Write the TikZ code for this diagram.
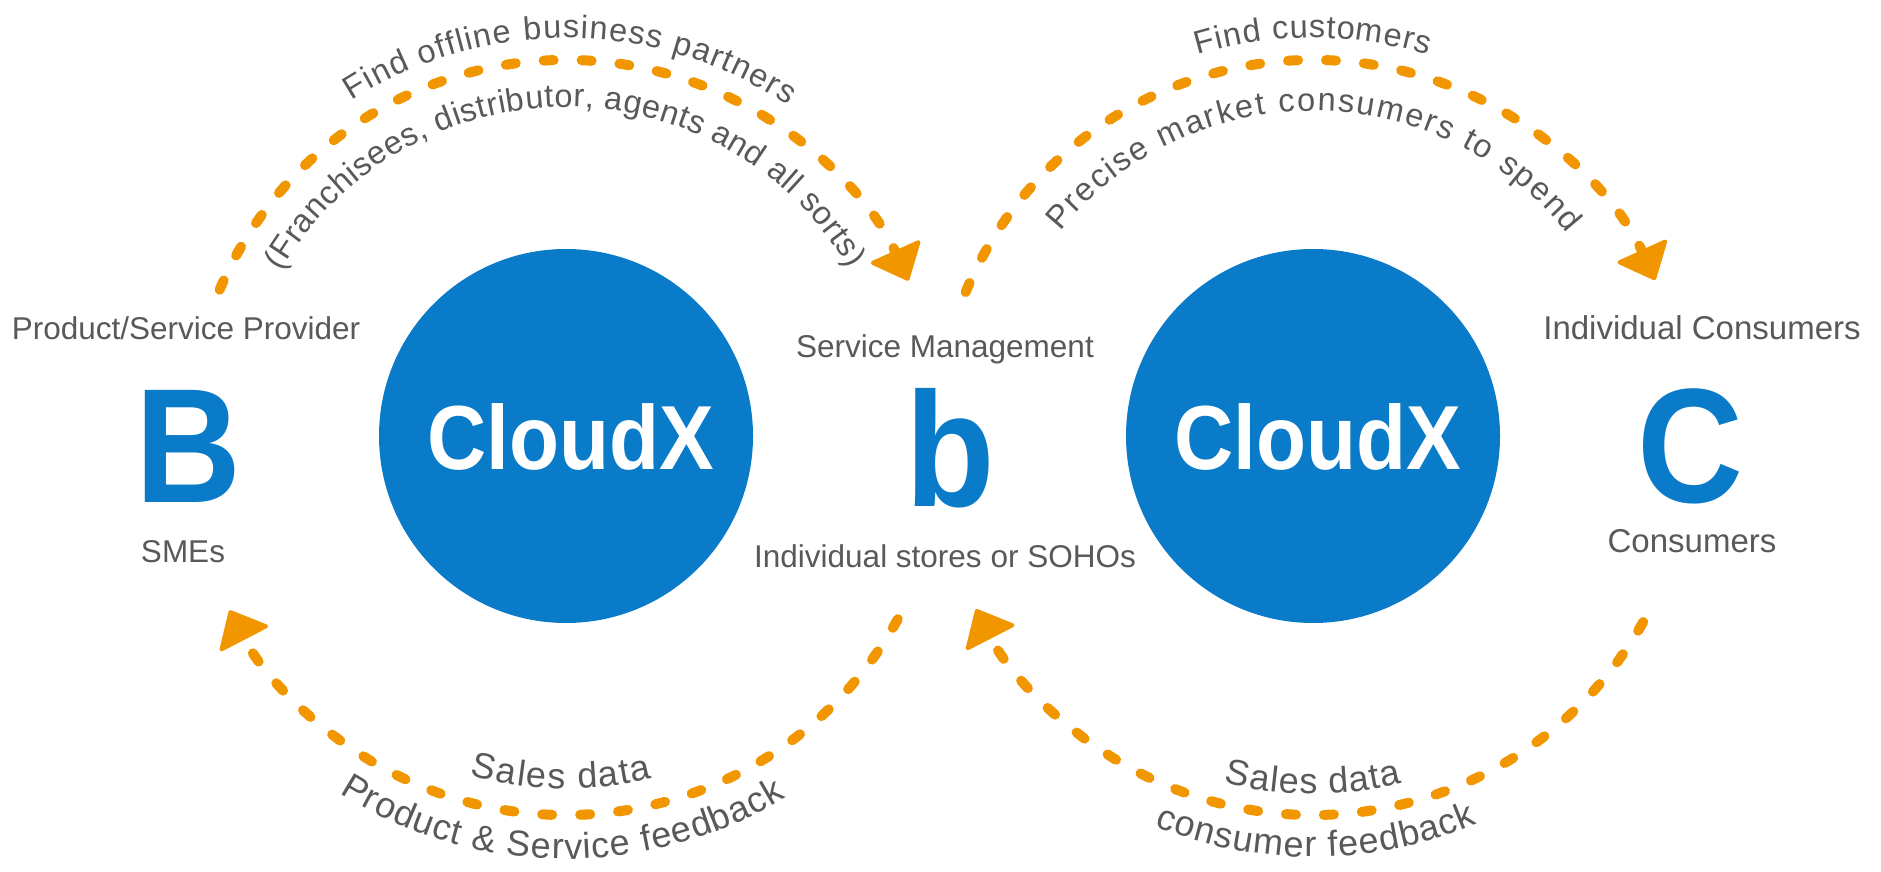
\documentclass[tikz,border=0pt]{standalone}
\usepackage{fontspec}
\setmainfont{Liberation Sans}
\newfontfamily\cloudfont[FakeStretch=0.9]{Liberation Sans}
\usetikzlibrary{arrows.meta,decorations.text}
\definecolor{cxblue}{HTML}{0A7BC8}
\definecolor{cxorange}{HTML}{F29600}
\definecolor{cxgray}{HTML}{595959}
\newcommand{\curvtop}{\fontsize{32.5}{32.5}\selectfont\color{cxgray}}
\newcommand{\curvbot}{\fontsize{36}{36}\selectfont\color{cxgray}}
\begin{document}
\begin{tikzpicture}[x=1pt,y=1pt,
  hub/.style={circle, fill=cxblue, minimum size=374pt, inner sep=0pt},
  hubtext/.style={text=white, font=\cloudfont\bfseries\fontsize{91}{91}\selectfont, anchor=base, inner sep=0pt},
  bigletter/.style={text=cxblue, font=\cloudfont\bfseries\fontsize{163}{163}\selectfont, anchor=base, inner sep=0pt},
  lbl/.style={text=cxgray, font=\fontsize{31.5}{31.5}\selectfont, anchor=base, inner sep=0pt},
  lblc/.style={text=cxgray, font=\fontsize{33}{33}\selectfont, anchor=base, inner sep=0pt},
  flow/.style={draw=cxorange, line width=10pt, line cap=round, dash pattern=on 10pt off 28pt,
    -{Triangle[length=34pt,width=58pt,round,line width=4pt]}}
]
\useasboundingbox (0,0) rectangle (1881,871);
\fill[white] (0,0) rectangle (1881,871);

% hubs
\node[hub] (c1) at (566,435) {};
\node[hub] (c2) at (1313,435) {};
\node[hubtext] (t1) at (571,401) {CloudX};
\node[hubtext] (t2) at (1318,401) {CloudX};

% big letters
\node[bigletter] (B) at (188,369) {B};
\node[bigletter] (b) at (950,364) {b};
\node[bigletter] (C) at (1690,368) {C};

% labels
\node[lbl] (pp) at (186,531) {Product/Service Provider};
\node[lbl] (sme) at (183,309) {SMEs};
\node[lbl] (sm) at (945,513) {Service Management};
\node[lbl] (iso) at (945,304) {Individual stores or SOHOs};
\node[lblc] (ic) at (1702,531) {Individual Consumers};
\node[lblc] (cons) at (1692,319) {Consumers};

% flows
\draw[flow] ([shift={(157.1:376)}]c1.center) arc[start angle=157.1, end angle=24.4, radius=376];
\draw[flow] ([shift={(157.5:376)}]c2.center) arc[start angle=157.5, end angle=24.5, radius=376];
\draw[flow] ([shift={(-28.9:379)}]c1.center) arc[start angle=-28.9, end angle=-152.6, radius=379];
\draw[flow] ([shift={(-29.4:379)}]c2.center) arc[start angle=-29.4, end angle=-152.8, radius=379];

% curved texts
\path[decorate, decoration={text along path, text align={fit to path},
  text={|\curvtop|Find offline business partners}}]
  ([shift={(122.6:398)}]c1.center) arc[start angle=122.6, end angle=56.2, radius=398];
\path[decorate, decoration={text along path, text align={fit to path},
  text={|\curvtop|(Franchisees, distributor, agents and all sorts)}}]
  ([shift={(150:329)}]c1.center) arc[start angle=150, end angle=30.5, radius=329];
\path[decorate, decoration={text along path, text align={fit to path},
  text={|\curvtop|Find customers}}]
  ([shift={(106.8:398)}]c2.center) arc[start angle=106.8, end angle=73.2, radius=398];
\path[decorate, decoration={text along path, text align={fit to path},
  text={|\curvtop|Precise market consumers to spend}}]
  ([shift={(141:325)}]c2.center) arc[start angle=141, end angle=38.5, radius=325];
\path[decorate, decoration={text along path, text align={fit to path},
  text={|\curvbot|Sales data}}]
  ([shift={(-105.8:353)}]c1.center) arc[start angle=-105.8, end angle=-75.9, radius=353];
\path[decorate, decoration={text along path, text align={fit to path},
  text={|\curvbot|Product {\&} Service feedback}}]
  ([shift={(-122.4:423)}]c1.center) arc[start angle=-122.4, end angle=-58.7, radius=423];
\path[decorate, decoration={text along path, text align={fit to path},
  text={|\curvbot|Sales data}}]
  ([shift={(-104.4:358)}]c2.center) arc[start angle=-104.4, end angle=-75.6, radius=358];
\path[decorate, decoration={text along path, text align={fit to path},
  text={|\curvbot|consumer feedback}}]
  ([shift={(-112.1:421)}]c2.center) arc[start angle=-112.1, end angle=-67, radius=421];
\end{tikzpicture}
\end{document}
